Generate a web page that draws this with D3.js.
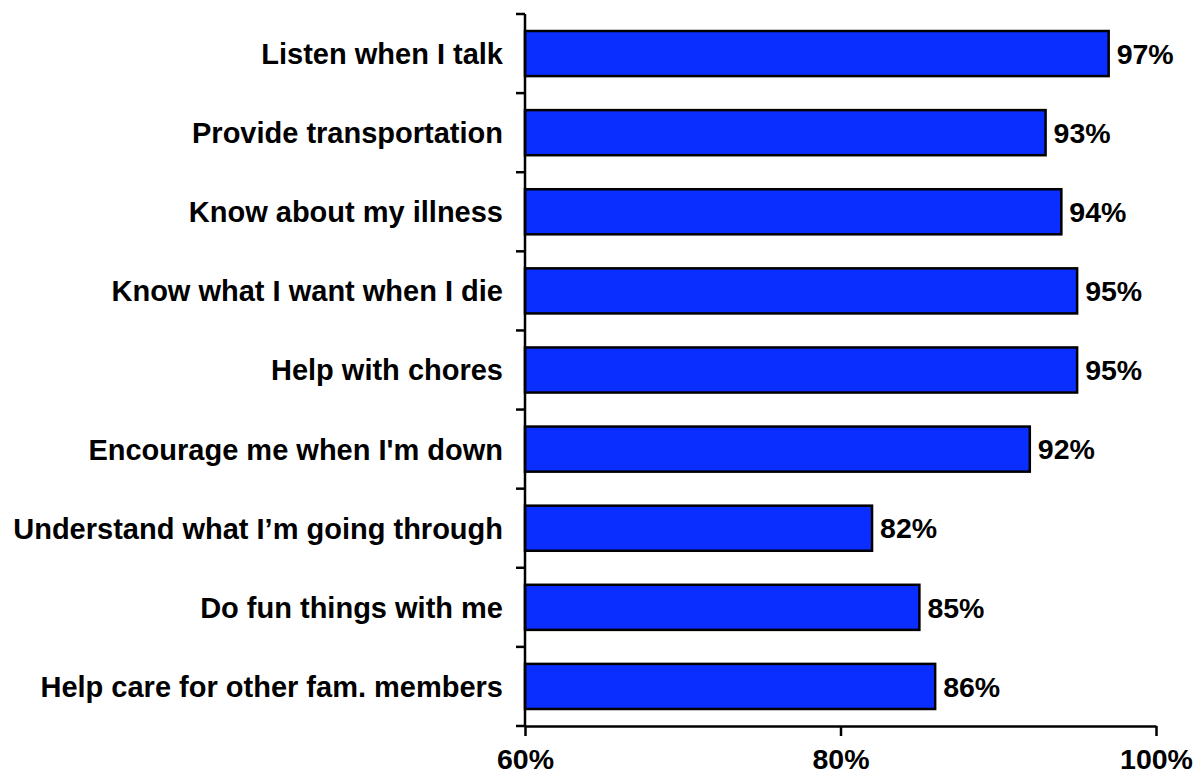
<!DOCTYPE html>
<html>
<head>
<meta charset="utf-8">
<script src="https://cdn.jsdelivr.net/npm/d3@7"></script>
<style>
  html, body { margin: 0; padding: 0; background: #ffffff; }
  svg { display: block; }
  text { font-family: "Liberation Sans", Arial, sans-serif; font-weight: bold; fill: #000; }
</style>
</head>
<body>
<svg id="chart" width="1204" height="776"></svg>
<script>
// Share of respondents who want each kind of support from family
const categories = [
  "Listen when I talk",
  "Provide transportation",
  "Know about my illness",
  "Know what I want when I die",
  "Help with chores",
  "Encourage me when I'm down",
  "Understand what I\u2019m going through",
  "Do fun things with me",
  "Help care for other fam. members"
];
const values = [97, 93, 94, 95, 95, 92, 82, 85, 86];
const xTicks = [60, 80, 100];

const svg = d3.select("#chart");
const plot = { left: 525, right: 1156, top: 14, bottom: 726 };

const x = d3.scaleLinear().domain([60, 100]).range([plot.left, plot.right]);
const y = d3.scaleBand()
  .domain(categories)
  .range([plot.top, plot.bottom])
  .paddingInner(0.43)
  .paddingOuter(0.215);

const data = categories.map((c, i) => ({ cat: c, val: values[i] }));

// bars
svg.append("g").selectAll("rect")
  .data(data)
  .join("rect")
  .attr("x", x(60))
  .attr("y", d => y(d.cat))
  .attr("width", d => x(d.val) - x(60))
  .attr("height", y.bandwidth())
  .attr("fill", "#0A2EFF")
  .attr("stroke", "#000")
  .attr("stroke-width", 2.5);

// value labels
svg.append("g").selectAll("text")
  .data(data)
  .join("text")
  .attr("x", d => x(d.val) + 8)
  .attr("y", d => y(d.cat) + y.bandwidth() / 2)
  .attr("dy", "0.36em")
  .style("font-size", "28.5px")
  .text(d => d.val + "%");

// category labels
svg.append("g").selectAll("text")
  .data(data)
  .join("text")
  .attr("x", plot.left - 22)
  .attr("y", d => y(d.cat) + y.bandwidth() / 2)
  .attr("dy", "0.36em")
  .attr("text-anchor", "end")
  .style("font-size", "29px")
  .text(d => d.cat);

// vertical axis with ticks between the bands
const step = y.step();
const bandEdges = d3.range(categories.length + 1).map(i => plot.top + i * step);
const yAxis = svg.append("g").attr("stroke", "#000").attr("stroke-width", 2.5);
yAxis.append("line")
  .attr("x1", plot.left).attr("x2", plot.left)
  .attr("y1", plot.top).attr("y2", plot.bottom);
yAxis.selectAll("line.tick")
  .data(bandEdges)
  .join("line")
  .attr("class", "tick")
  .attr("x1", plot.left - 9).attr("x2", plot.left)
  .attr("y1", d => d).attr("y2", d => d);

// horizontal axis
const xAxis = d3.axisBottom(x)
  .tickValues(xTicks)
  .tickSize(10)
  .tickSizeOuter(0)
  .tickPadding(13)
  .tickFormat(d => d + "%");
const gx = svg.append("g")
  .attr("transform", `translate(0,${plot.bottom})`)
  .call(xAxis);
gx.select(".domain").attr("stroke", "#000").attr("stroke-width", 2.5);
gx.selectAll(".tick line").attr("stroke", "#000").attr("stroke-width", 2.5);
gx.selectAll(".tick text")
  .style("font-size", "28.5px")
  .style("font-family", "'Liberation Sans', Arial, sans-serif")
  .style("font-weight", "bold")
  .attr("fill", "#000");
</script>
</body>
</html>
